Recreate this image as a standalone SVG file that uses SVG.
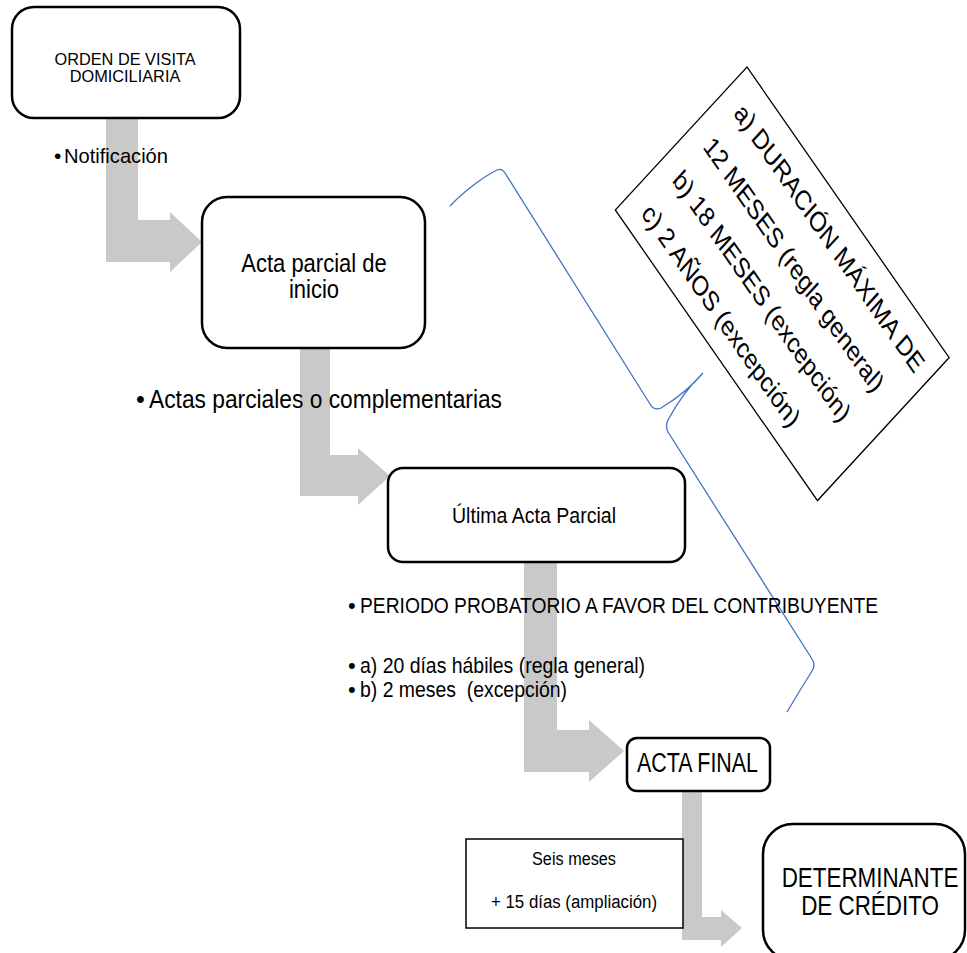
<svg xmlns="http://www.w3.org/2000/svg" width="967" height="953" viewBox="0 0 967 953">
<style>
.arrow{fill:#c9c9c9}
.box{fill:#fff;stroke:#000;stroke-width:2.5}
.t{font-family:"Liberation Sans",Arial,sans-serif;fill:#000}
.brace{fill:none;stroke:#4472c4;stroke-width:1.3}
</style>
<rect width="967" height="953" fill="#fff"/>
<g id="connectors">
<path class="arrow" d="M106,118 L138,118 L138,220 L170,220 L170,212 L202,242 L170,272 L170,262 L106,262 Z"/>
<path class="arrow" d="M300,348 L330,348 L330,455 L358,455 L358,448 L390,476 L358,505 L358,496 L300,496 Z"/>
<path class="arrow" d="M524,562 L557,562 L557,730 L589,730 L589,720 L624,751 L589,782 L589,772 L524,772 Z"/>
<path class="arrow" d="M682,791 L702,791 L702,917 L721,917 L721,910 L742,928 L721,947 L721,940 L682,940 Z"/>
<path id="brace" class="brace" d="M450,206 C465,190 485,176 497,170 Q502,168 505,173 L650,404 Q654,411 661,408 Q686,393 703,373 Q683,392 668,420 Q665,426 668,432 L812,659 Q816,665 812,671 Q800,690 787,712"/>
</g>
<g id="node-orden">
<rect class="box" x="12" y="7" width="228" height="111" rx="22"/>
<text class="t" transform="translate(125,0) scale(1.02,1)" text-anchor="middle" font-size="16"><tspan x="0" y="65">ORDEN DE VISITA</tspan><tspan x="0" y="82">DOMICILIARIA</tspan></text>
</g>
<g id="label-notificacion">
<text class="t" x="54" y="163" font-size="21">•</text>
<text class="t" x="64" y="163" font-size="21" textLength="104" lengthAdjust="spacingAndGlyphs">Notificación</text>
</g>
<g id="node-acta-inicio">
<rect class="box" x="202" y="197" width="223" height="151" rx="25"/>
<text class="t" transform="translate(314,0) scale(0.88,1)" text-anchor="middle" font-size="25"><tspan x="0" y="272">Acta parcial de</tspan><tspan x="0" y="298">inicio</tspan></text>
</g>
<g id="label-actas">
<text class="t" x="136" y="408" font-size="25">•</text>
<text class="t" x="149" y="408" font-size="25" textLength="353" lengthAdjust="spacingAndGlyphs">Actas parciales o complementarias</text>
</g>
<g id="node-ultima">
<rect class="box" x="388" y="468" width="297" height="94" rx="15"/>
<text class="t" x="452" y="523" font-size="22" textLength="164" lengthAdjust="spacingAndGlyphs">Última Acta Parcial</text>
</g>
<g id="label-periodo">
<text class="t" x="348" y="613" font-size="22">•</text>
<text class="t" x="360" y="613" font-size="22" textLength="518" lengthAdjust="spacingAndGlyphs">PERIODO PROBATORIO A FAVOR DEL CONTRIBUYENTE</text>
<text class="t" x="348" y="673" font-size="22">•</text>
<text class="t" x="360" y="673" font-size="22" textLength="285" lengthAdjust="spacingAndGlyphs">a) 20 días hábiles (regla general)</text>
<text class="t" x="348" y="697" font-size="22">•</text>
<text class="t" x="360" y="697" font-size="22" textLength="207" lengthAdjust="spacingAndGlyphs" style="white-space:pre">b) 2 meses  (excepción)</text>
</g>
<g id="node-duracion" transform="matrix(0.525,0.755,-0.604,0.656,747,67)">
<rect x="0" y="0" width="385" height="218" fill="#fff" stroke="#000" stroke-width="1.5"/>
<text class="t" x="24" y="44" font-size="28">a) DURACIÓN MÁXIMA DE</text>
<text class="t" x="24" y="95" font-size="28">12 MESES (regla general)</text>
<text class="t" x="24" y="146" font-size="28">b) 18 MESES (excepción)</text>
<text class="t" x="24" y="197" font-size="28">c) 2 AÑOS (excepción)</text>
</g>
<g id="node-acta-final">
<rect class="box" x="627" y="738" width="143" height="53" rx="10"/>
<text class="t" x="637" y="772" font-size="27" textLength="121" lengthAdjust="spacingAndGlyphs">ACTA FINAL</text>
</g>
<g id="node-seis">
<rect x="466" y="839" width="217" height="89" fill="#fff" stroke="#000" stroke-width="1.5"/>
<text class="t" x="532" y="865" font-size="18" textLength="84" lengthAdjust="spacingAndGlyphs">Seis meses</text>
<text class="t" x="491" y="908" font-size="18" textLength="166" lengthAdjust="spacingAndGlyphs">+ 15 días (ampliación)</text>
</g>
<g id="node-determinante">
<rect class="box" x="763" y="824" width="202" height="136" rx="30"/>
<text class="t" transform="translate(870,0) scale(0.83,1)" text-anchor="middle" font-size="27"><tspan x="0" y="887">DETERMINANTE</tspan><tspan x="0" y="915">DE CRÉDITO</tspan></text>
</g>
</svg>
